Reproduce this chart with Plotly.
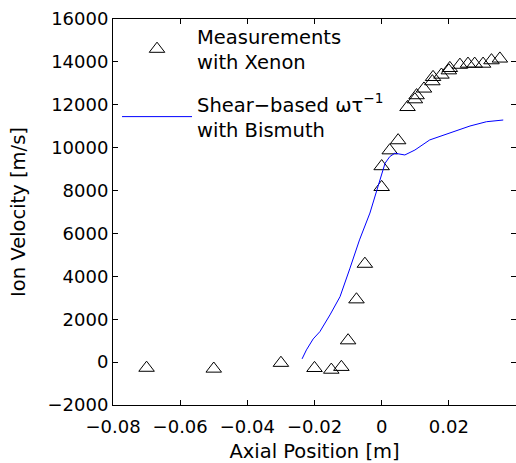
import plotly.graph_objects as go

# Measurements with Xenon
meas_x = [-0.070, -0.050, -0.030, -0.020, -0.015, -0.012, -0.010, -0.0075, -0.005,
          0.000, 0.000, 0.0024, 0.0049, 0.0077, 0.0099, 0.0104, 0.0126, 0.0151,
          0.0153, 0.0178, 0.0200, 0.0203, 0.0233, 0.0257, 0.0277, 0.0302, 0.0327, 0.0352]
meas_y = [-170, -210, 60, -180, -260, -130, 1110, 3020, 4680,
          8260, 9230, 9970, 10440, 11990, 12350, 12540, 12850, 13190,
          13390, 13500, 13700, 13810, 13960, 14010, 14010, 14010, 14170, 14250]

# Shear-based model with Bismuth
model_x = [-0.0237, -0.0224, -0.0204, -0.0184, -0.0154, -0.0124, -0.0095, -0.0066,
           -0.0035, -0.0013, 0.0010, 0.0024, 0.0039, 0.0069, 0.0099, 0.0143,
           0.0203, 0.0263, 0.0312, 0.0362]
model_y = [150, 570, 1080, 1420, 2200, 3050, 4350, 5700,
           6950, 8030, 9270, 9580, 9740, 9660, 9890, 10360,
           10670, 11010, 11210, 11290]

x_ticks = [-0.08, -0.06, -0.04, -0.02, 0, 0.02]
x_ticktext = ["\u22120.08", "\u22120.06", "\u22120.04", "\u22120.02", "0", "0.02"]
y_ticks = [-2000, 0, 2000, 4000, 6000, 8000, 10000, 12000, 14000, 16000]

y_shift = -100  # marker centre offset so triangle box centres sit on the values
fig = go.Figure()
fig.add_trace(go.Scatter(
    x=meas_x, y=[v + y_shift for v in meas_y], mode="markers",
    name="Measurements<br>with Xenon", legendgroup="a",
    marker=dict(symbol="triangle-up-open", size=13.5, color="black",
                line=dict(color="black", width=1)),
))
fig.add_trace(go.Scatter(
    x=model_x, y=model_y, mode="lines", legendgroup="b",
    name="Shear\u2212based \u03c9\u03c4<sup>\u22121</sup><br>with Bismuth",
    line=dict(color="#0000ff", width=1),
))

FONT = "DejaVu Sans"
fig.update_layout(
    width=516, height=463,
    margin=dict(l=113, r=0, t=19, b=58),
    paper_bgcolor="white", plot_bgcolor="white",
    font=dict(family=FONT, size=18, color="black"),
    showlegend=True,
    legend=dict(x=0.01, y=1.005, xanchor="left", yanchor="top",
                bgcolor="rgba(0,0,0,0)", borderwidth=0,
                font=dict(family=FONT, size=19.5, color="black"),
                itemwidth=70, tracegroupgap=14),
    xaxis=dict(range=[-0.08, 0.04], tickvals=x_ticks, ticktext=x_ticktext,
               showgrid=False, zeroline=False, showline=True, linecolor="black",
               linewidth=1, mirror="ticks", ticks="inside", ticklen=5,
               tickcolor="black", ticklabelstandoff=5,
               title=dict(text="Axial Position [m]", font=dict(size=19.5), standoff=9)),
    yaxis=dict(range=[-2000, 16000], tickvals=y_ticks,
               tickformat="d",
               showgrid=False, zeroline=False, showline=True, linecolor="black",
               linewidth=1, mirror="ticks", ticks="inside", ticklen=5,
               tickcolor="black", ticklabelstandoff=0,
               title=dict(text="Ion Velocity [m/s]", font=dict(size=19.5), standoff=16)),
)

fig.write_html("out.html")
